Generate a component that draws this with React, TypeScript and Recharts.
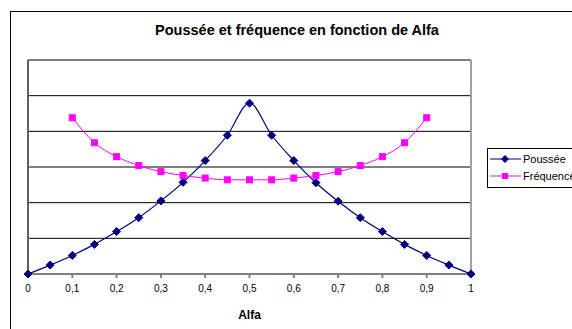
import React from 'react';
import {
  LineChart, Line, XAxis, YAxis, CartesianGrid, ReferenceLine, Label
} from 'recharts';

// values (y in gridline units, 6 bands)
const alfa = [0, 0.05, 0.1, 0.15, 0.2, 0.25, 0.3, 0.35, 0.4, 0.45, 0.5,
  0.55, 0.6, 0.65, 0.7, 0.75, 0.8, 0.85, 0.9, 0.95, 1];
const poussee = [0, 0.25, 0.52, 0.83, 1.19, 1.58, 2.05, 2.57, 3.18, 3.89, 4.79,
  3.89, 3.18, 2.56, 2.04, 1.58, 1.19, 0.83, 0.52, 0.25, 0];
const frequence = [null, null, 4.38, 3.68, 3.29, 3.04, 2.87, 2.76, 2.69, 2.64, 2.64,
  2.64, 2.69, 2.76, 2.87, 3.04, 3.29, 3.68, 4.38, null, null];
const xTicks = [0, 0.1, 0.2, 0.3, 0.4, 0.5, 0.6, 0.7, 0.8, 0.9, 1];
const yTicks = [0, 1, 2, 3, 4, 5, 6];

const data = alfa.map((a, i) => ({ alfa: a, poussee: poussee[i], frequence: frequence[i] }));

const FONT = 'Arial, "Liberation Sans", sans-serif';
const NAVY = '#000080';
const MAGENTA = '#FF00FF';

const Diamond = (props: any) => {
  const { cx, cy } = props;
  if (cx == null || cy == null || props.value == null) return null;
  return <polygon points={`${cx},${cy - 4} ${cx + 4},${cy} ${cx},${cy + 4} ${cx - 4},${cy}`} fill={NAVY} stroke={NAVY} />;
};

const Square = (props: any) => {
  const { cx, cy } = props;
  if (cx == null || cy == null || props.value == null) return null;
  return <rect x={cx - 3} y={cy - 3} width={6} height={6} fill={MAGENTA} stroke={MAGENTA} />;
};

const fmt = (v: number) => String(v).replace('.', ',');

export default function App() {
  return (
    <div style={{ position: 'absolute', left: 0, top: 0, width: 572, height: 329, overflow: 'hidden', background: '#fff', fontFamily: FONT }}>
      {/* chart area frame */}
      <div style={{ position: 'absolute', left: 10, top: 11, width: 620, height: 400, border: '1px solid #000' }} />
      <div style={{ position: 'absolute', left: 0, top: 22, width: 594, textAlign: 'center', fontSize: 14.5, fontWeight: 'bold' }}>
        Poussée et fréquence en fonction de Alfa
      </div>
      <LineChart width={572} height={329} data={data} margin={{ top: 60, right: 101, left: 28, bottom: 0 }}
        style={{ position: 'absolute', left: 0, top: 0 }}>
        <CartesianGrid vertical={false} stroke="#000" />
        <XAxis dataKey="alfa" type="number" domain={[0, 1]} ticks={xTicks} tickFormatter={fmt}
          height={55} stroke="#808080" strokeWidth={2} tickSize={4} tickMargin={7}
          tick={{ fontSize: 10, fill: '#000', fontFamily: FONT }} interval={0}>
          <Label value="Alfa" position="insideBottom" offset={10}
            style={{ fontSize: 12, fontWeight: 'bold', fill: '#000', fontFamily: FONT }} />
        </XAxis>
        <YAxis hide domain={[0, 6]} ticks={yTicks} />
        <ReferenceLine y={6} stroke="#808080" />
        <ReferenceLine x={1} stroke="#a0a0a0" strokeWidth={2} />
        <ReferenceLine x={0} stroke="#606060" strokeWidth={2} />
        <Line type="monotone" dataKey="poussee" stroke={NAVY} strokeWidth={1.2} dot={<Diamond />}
          isAnimationActive={false} />
        <Line type="monotone" dataKey="frequence" stroke={MAGENTA} strokeWidth={1} dot={<Square />}
          isAnimationActive={false} />
      </LineChart>
      {/* legend */}
      <div style={{ position: 'absolute', left: 487, top: 148, width: 100, height: 38, border: '1px solid #000', fontSize: 11 }}>
        {[{ name: 'Poussée', color: NAVY, shape: 'd' }, { name: 'Fréquence', color: MAGENTA, shape: 's' }].map((s) => (
          <div key={s.name} style={{ display: 'flex', alignItems: 'center', height: 17, marginTop: s.shape === 'd' ? 1 : 0 }}>
            <svg width={33} height={10} style={{ marginLeft: 2 }}>
              <line x1={0} y1={5} x2={31} y2={5} stroke={s.color} />
              {s.shape === 'd'
                ? <polygon points="15,1 19,5 15,9 11,5" fill={s.color} />
                : <rect x={12} y={2} width={6} height={6} fill={s.color} />}
            </svg>
            <span>{s.name}</span>
          </div>
        ))}
      </div>
    </div>
  );
}
